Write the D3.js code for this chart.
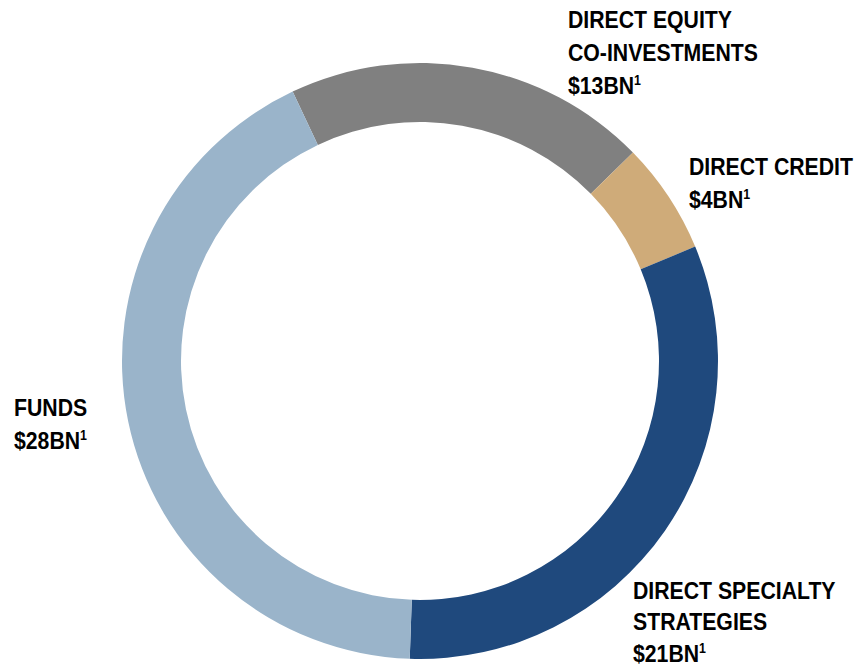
<!DOCTYPE html>
<html><head><meta charset="utf-8">
<script src="https://cdn.jsdelivr.net/npm/d3@7"></script>
<style>
html,body{margin:0;padding:0;background:#fff;}
text{font-family:"Liberation Sans Narrow","Arial Narrow","Liberation Sans",Arial,sans-serif;font-weight:bold;fill:#000;}
</style></head>
<body>
<svg id="chart" width="856" height="668"></svg>
<script>
const categories = ["DIRECT EQUITY CO-INVESTMENTS", "DIRECT CREDIT", "DIRECT SPECIALTY STRATEGIES", "FUNDS"];
const values = [13, 4, 21, 28];
const valueLabels = ["$13BN", "$4BN", "$21BN", "$28BN"];
const labelLines = [["DIRECT EQUITY", "CO-INVESTMENTS"], ["DIRECT CREDIT"], ["DIRECT SPECIALTY", "STRATEGIES"], ["FUNDS"]];
const colors = ["#808080", "#CFAB79", "#1F497D", "#9AB4CA"];

const svg = d3.select("#chart");
const cx = 420, cy = 361, outerR = 298, innerR = 239;
const start = -25.3 * Math.PI / 180;

const pie = d3.pie().sort(null).startAngle(start).endAngle(start + 2 * Math.PI);
const arc = d3.arc().innerRadius(innerR).outerRadius(outerR);

const g = svg.append("g").attr("transform", `translate(${cx},${cy})`);
g.selectAll("path").data(pie(values)).join("path")
  .attr("d", arc)
  .attr("fill", (d, i) => colors[i]);

// label placement (left x, first baseline y, line step)
const labelPos = [[568, 28, 33], [689, 175, 33], [633, 599, 31.5], [14, 416, 33]];
const fs = 24;
const squeeze = 0.885;

labelPos.forEach((p, i) => {
  const t = svg.append("g").attr("transform", `translate(${p[0]},0) scale(${squeeze},1)`);
  const lines = labelLines[i];
  const lineH = p[2];
  lines.forEach((ln, j) => {
    t.append("text").attr("x", 0).attr("y", p[1] + j * lineH)
      .attr("font-size", fs).text(ln);
  });
  const vt = t.append("text").attr("x", 0).attr("y", p[1] + lines.length * lineH)
    .attr("font-size", fs);
  vt.append("tspan").text(valueLabels[i]);
  vt.append("tspan").attr("font-size", 14).attr("dy", -9).text("1");
});
</script>
</body></html>
